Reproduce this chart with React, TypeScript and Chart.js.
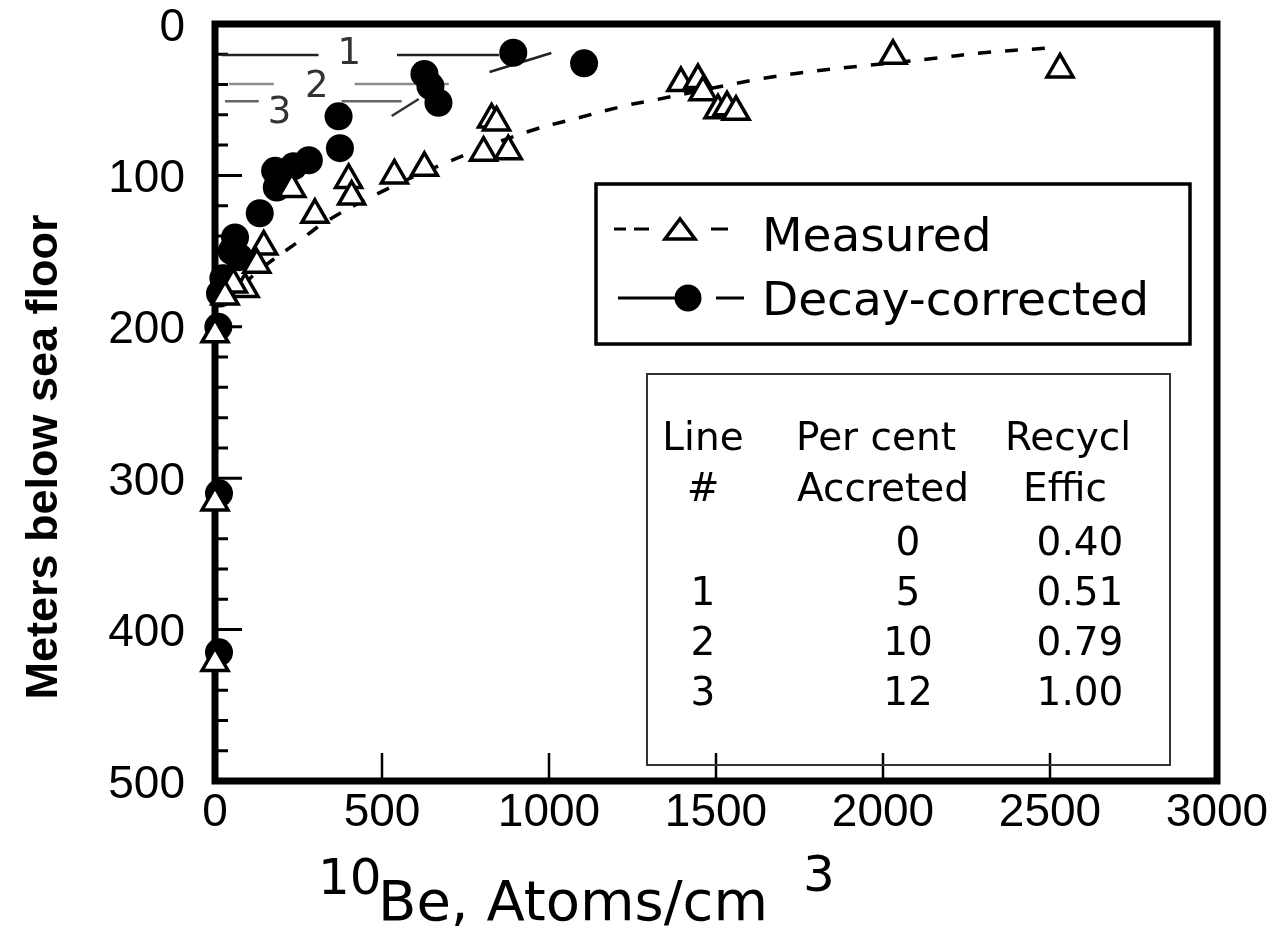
import React, { useEffect, useRef } from "react";
import { Chart, registerables } from "chart.js";

Chart.register(...registerables);

// ---------- data ----------
const measuredX = [2530, 2030, 1395, 1446, 1461, 1506, 1533, 1560, 828, 843, 804, 878, 627, 537, 400, 409, 230, 299, 146, 125, 90, 55, 30, 0, 0, 0];
const measuredY = [30, 21, 39, 37, 45, 57, 55, 58, 63, 65, 85, 84, 95, 100, 103, 114, 109, 126, 147, 159, 175, 172, 180, 205, 316, 422];

const correctedX = [893, 1105, 627, 645, 669, 370, 374, 281, 235, 180, 185, 134, 60, 50, 72, 25, 15, 10, 12, 12];
const correctedY = [19, 26, 33, 41, 52, 61, 82, 90, 94, 97, 108, 125, 141, 150, 154, 168, 178, 200, 310, 415];

// dashed fit through the measured profile
const fitX = [30, 120, 254, 329, 478, 699, 938, 1088, 1237, 1321, 1613, 1763, 1924, 2142, 2300, 2490];
const fitY = [185, 165, 143, 131, 113, 91, 71, 62, 53.5, 50, 37, 32, 28, 23, 19, 16];

// model lines 1, 2, 3 (null = gap for the label)
const line1X = [20, 310, 400, 545, 850];
const line1Y = [20.5, 20.5, null, 20.5, 20.5];
const line1TailX = [822, 1007];
const line1TailY = [31.7, 19.2];
const line2X = [42, 176, 300, 418, 700];
const line2Y = [39.6, 39.6, null, 39.6, 39.6];
const line3X = [30, 131, 250, 379, 559];
const line3Y = [51, 51, null, 51, 51];
const line3TailX = [529, 610];
const line3TailY = [60.8, 49.5];

const lineLabels = ["1", "2", "3"];
const lineLabelX = [402, 305, 193];
const lineLabelY = [20, 42, 59];

const xTickValues = [0, 500, 1000, 1500, 2000, 2500, 3000];
const yTickValues = [0, 100, 200, 300, 400, 500];
const yMinorTicks = [20, 40, 60, 80, 120, 140, 160, 180, 220, 240, 260, 280, 320, 340, 360, 380, 420, 440, 460, 480];
const yMajorTicks = [100, 200, 300, 400];
const xMajorTicks = [500, 1000, 1500, 2000, 2500];

const legendLabels = ["Measured", "Decay-corrected"];

const tableHeader1 = ["Line", "Per cent", "Recycl"];
const tableHeader2 = ["#", "Accreted", "Effic"];
const tableLineNo = ["", "1", "2", "3"];
const tableAccreted = ["0", "5", "10", "12"];
const tableEfficiency = ["0.40", "0.51", "0.79", "1.00"];

const xTitleParts = ["10", "Be, Atoms/cm", "3"];
const yTitle = "Meters below sea floor";

const pts = (xs: number[], ys: (number | null)[]) =>
  xs.map((x, i) => ({ x, y: ys[i] as number }));

const decorPlugin = {
  id: "decor",
  beforeDatasetsDraw(chart: any) {
    const { ctx, chartArea: a, scales } = chart;
    const xs = scales.x;
    const ys = scales.y;
    ctx.save();
    ctx.strokeStyle = "#000";
    ctx.lineWidth = 7;
    ctx.strokeRect(a.left, a.top, a.right - a.left, a.bottom - a.top);
    ctx.lineWidth = 3;
    ctx.beginPath();
    for (const v of yMinorTicks) {
      const p = ys.getPixelForValue(v);
      ctx.moveTo(a.left + 3, p);
      ctx.lineTo(a.left + 13, p);
    }
    for (const v of yMajorTicks) {
      const p = ys.getPixelForValue(v);
      ctx.moveTo(a.left + 3, p);
      ctx.lineTo(a.left + 27, p);
    }
    ctx.stroke();
    ctx.lineWidth = 2.5;
    ctx.beginPath();
    for (const v of xMajorTicks) {
      const p = xs.getPixelForValue(v);
      ctx.moveTo(p, a.bottom - 3);
      ctx.lineTo(p, a.bottom - 28);
    }
    ctx.stroke();
    ctx.restore();
  },
  afterDraw(chart: any) {
    const { ctx, scales } = chart;
    const xs = scales.x;
    const ys = scales.y;
    ctx.save();
    // line labels
    ctx.fillStyle = "#333";
    ctx.font = '37px "DejaVu Sans"';
    ctx.textAlign = "center";
    ctx.textBaseline = "middle";
    lineLabels.forEach((t, i) => {
      ctx.fillText(t, xs.getPixelForValue(lineLabelX[i]), ys.getPixelForValue(lineLabelY[i]));
    });

    // legend box
    ctx.fillStyle = "#000";
    ctx.strokeStyle = "#000";
    ctx.lineWidth = 3.5;
    ctx.strokeRect(596, 184, 594, 160);
    ctx.lineWidth = 3;
    ctx.beginPath();
    ctx.moveTo(614, 229); ctx.lineTo(626, 229);
    ctx.moveTo(634, 229); ctx.lineTo(649, 229);
    ctx.moveTo(711, 229); ctx.lineTo(728, 229);
    ctx.stroke();
    ctx.lineWidth = 3.5;
    ctx.beginPath();
    ctx.moveTo(665, 239); ctx.lineTo(695, 239); ctx.lineTo(680, 219); ctx.closePath();
    ctx.stroke();
    ctx.lineWidth = 3;
    ctx.beginPath();
    ctx.moveTo(618, 298); ctx.lineTo(676, 298);
    ctx.moveTo(716, 298); ctx.lineTo(744, 298);
    ctx.stroke();
    ctx.beginPath();
    ctx.arc(688, 298, 13.5, 0, Math.PI * 2);
    ctx.fill();
    ctx.font = '47px "DejaVu Sans"';
    ctx.textAlign = "left";
    ctx.textBaseline = "alphabetic";
    ctx.fillText(legendLabels[0], 762, 251);
    ctx.fillText(legendLabels[1], 762, 315);

    // table
    ctx.strokeStyle = "#333";
    ctx.lineWidth = 2;
    ctx.strokeRect(647, 374, 523, 391);
    ctx.font = '39px "DejaVu Sans"';
    ctx.textAlign = "center";
    const headCols = [703, 876, 1068];
    ctx.fillText(tableHeader1[0], headCols[0], 450);
    ctx.fillText(tableHeader1[1], headCols[1], 450);
    ctx.fillText(tableHeader1[2], headCols[2], 450);
    ctx.fillText(tableHeader2[0], headCols[0], 501);
    ctx.fillText(tableHeader2[1], 883, 501);
    ctx.fillText(tableHeader2[2], 1065, 501);
    const rowBase = [555, 605, 655, 705];
    tableLineNo.forEach((t, i) => {
      ctx.fillText(t, 703, rowBase[i]);
      ctx.fillText(tableAccreted[i], 908, rowBase[i]);
      ctx.fillText(tableEfficiency[i], 1080, rowBase[i]);
    });

    // x axis title
    ctx.textAlign = "left";
    ctx.font = '50px "DejaVu Sans"';
    ctx.fillText(xTitleParts[0], 318, 894);
    ctx.font = '56px "DejaVu Sans"';
    ctx.fillText(xTitleParts[1], 378, 920);
    ctx.font = '50px "DejaVu Sans"';
    ctx.fillText(xTitleParts[2], 803, 891);

    // y axis title
    ctx.save();
    ctx.translate(57, 457);
    ctx.rotate(-Math.PI / 2);
    ctx.font = 'bold 45px "Liberation Sans"';
    ctx.textAlign = "center";
    ctx.fillText(yTitle, 0, 0);
    ctx.restore();

    ctx.restore();
  },
};

export default function App() {
  const ref = useRef<HTMLCanvasElement | null>(null);
  useEffect(() => {
    document.body.style.margin = "0";
    if (!ref.current) return;
    const lineDs = (data: any[], color: string, width: number) => ({
      data,
      showLine: true,
      pointRadius: 0,
      borderColor: color,
      borderWidth: width,
      spanGaps: false,
      order: 2,
      clip: false as const,
    });
    const chart = new Chart(ref.current, {
      type: "scatter",
      data: {
        datasets: [
          {
            label: "Measured",
            data: pts(measuredX, measuredY),
            pointStyle: "triangle",
            pointRadius: 15,
            borderWidth: 3.5,
            borderColor: "#000",
            backgroundColor: "#fff",
            order: 0,
            clip: false,
          },
          {
            label: "Decay-corrected",
            data: pts(correctedX, correctedY),
            pointStyle: "circle",
            pointRadius: 14,
            borderWidth: 0,
            backgroundColor: "#000",
            order: 1,
            clip: false,
          },
          {
            label: "fit",
            data: pts(fitX, fitY),
            showLine: true,
            pointRadius: 0,
            borderColor: "#000",
            borderWidth: 3.5,
            borderDash: [13, 14],
            tension: 0.4,
            order: 3,
            clip: false,
          },
          lineDs(pts(line1X, line1Y), "#222", 2.5),
          lineDs(pts(line1TailX, line1TailY), "#222", 2.5),
          lineDs(pts(line2X, line2Y), "#8a8a8a", 2.5),
          lineDs(pts(line3X, line3Y), "#666", 2.5),
          lineDs(pts(line3TailX, line3TailY), "#333", 2.5),
        ],
      },
      options: {
        responsive: false,
        animation: false,
        devicePixelRatio: 1,
        layout: { padding: { top: 24, right: 51, left: 0, bottom: 0 } },
        plugins: { legend: { display: false }, tooltip: { enabled: false } },
        scales: {
          x: {
            type: "linear",
            min: 0,
            max: 3000,
            afterBuildTicks: (s: any) => {
              s.ticks = xTickValues.map((v) => ({ value: v }));
            },
            afterFit: (s: any) => {
              s.height = 153;
              s.paddingLeft = 0;
              s.paddingRight = 0;
            },
            grid: { display: false, drawTicks: false },
            border: { display: false },
            ticks: {
              padding: 5,
              maxRotation: 0,
              autoSkip: false,
              color: "#000",
              font: { family: "Liberation Sans", size: 46 },
              callback: (v: any) => String(v),
            },
          },
          y: {
            type: "linear",
            min: 0,
            max: 500,
            reverse: true,
            afterBuildTicks: (s: any) => {
              s.ticks = yTickValues.map((v) => ({ value: v }));
            },
            afterFit: (s: any) => {
              s.width = 215;
              s.paddingTop = 0;
              s.paddingBottom = 0;
            },
            grid: { display: false, drawTicks: false },
            border: { display: false },
            ticks: {
              padding: 30,
              labelOffset: 4,
              autoSkip: false,
              color: "#000",
              font: { family: "Liberation Sans", size: 46 },
              callback: (v: any) => String(v),
            },
          },
        },
      },
      plugins: [decorPlugin],
    });
    return () => chart.destroy();
  }, []);
  return (
    <div style={{ width: 1268, height: 934 }}>
      <canvas ref={ref} width={1268} height={934} style={{ display: "block" }} />
    </div>
  );
}
